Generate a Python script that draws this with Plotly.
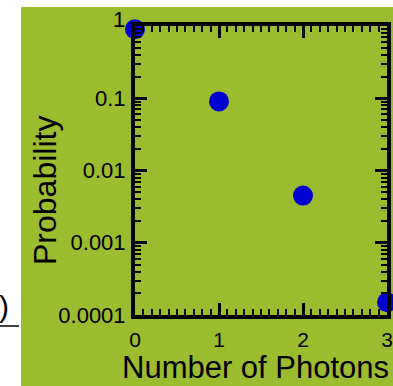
import plotly.graph_objects as go

photons = [0, 1, 2, 3]
probability = [0.905, 0.0905, 0.0045, 0.00015]
y_tickvals = [1e-4, 1e-3, 1e-2, 1e-1, 1]
y_ticktext = ["0.0001", "0.001", "0.01", "0.1", "1"]
x_tickvals = [0, 1, 2, 3]
x_ticktext = ["0", "1", "2", "3"]

W, H = 393, 386
L, R, T, B = 135, 6, 26, 71
pw, ph = W - L - R, H - T - B
green = "#9cbc2f"

def px_x(p):
    return (p - L) / pw

def px_y(p):
    return (H - B - p) / ph

minor_y = [k * 10 ** n for n in range(-4, 0) for k in range(2, 10)]
minor_x = [i / 10 for i in range(31) if i % 10 != 0]

fig = go.Figure()
fig.add_trace(go.Scatter(
    x=photons, y=probability, mode="markers",
    marker=dict(color="#0000d0", size=20, line=dict(width=0)),
    cliponaxis=False, showlegend=False,
))

# top label "1" sits a little above the frame in the reference
shown_text = y_ticktext[:-1] + [""]

font = "Liberation Sans, Arial, Helvetica, sans-serif"
fig.update_layout(
    width=W, height=H,
    margin=dict(l=L, r=R, t=T, b=B, autoexpand=False),
    paper_bgcolor=green, plot_bgcolor=green,
    font=dict(family=font, color="black", size=21),
    xaxis=dict(
        range=[0, 3], tickvals=x_tickvals, ticktext=x_ticktext, automargin=False,
        ticks="inside", ticklen=12, tickwidth=2.5, tickcolor="black",
        showline=True, linewidth=4, linecolor="black", mirror="allticks",
        showgrid=False, zeroline=False,
        minor=dict(tickvals=minor_x, ticks="inside", ticklen=6, tickwidth=2, tickcolor="black", showgrid=False),
        tickfont=dict(size=21), ticklabelstandoff=3,
    ),
    yaxis=dict(
        type="log", range=[-4, 0], tickvals=y_tickvals, ticktext=shown_text, automargin=False,
        ticks="inside", ticklen=12, tickwidth=2.5, tickcolor="black",
        showline=True, linewidth=4, linecolor="black", mirror="allticks",
        showgrid=False, zeroline=False,
        minor=dict(tickvals=minor_y, ticks="inside", ticklen=6, tickwidth=2, tickcolor="black", showgrid=False),
        tickfont=dict(size=22), ticklabelstandoff=1,
    ),
    shapes=[
        dict(type="rect", xref="paper", yref="paper", layer="below",
             x0=px_x(-5), x1=px_x(21), y0=px_y(H + 5), y1=px_y(-5),
             fillcolor="white", line=dict(width=0)),
        dict(type="rect", xref="paper", yref="paper", layer="below",
             x0=px_x(-5), x1=px_x(W + 5), y0=px_y(7), y1=px_y(-5),
             fillcolor="white", line=dict(width=0)),
        dict(type="line", xref="paper", yref="paper",
             x0=px_x(0), x1=px_x(19), y0=px_y(326), y1=px_y(326),
             line=dict(color="black", width=1.5)),
    ],
    annotations=[
        dict(text=y_ticktext[-1], xref="paper", yref="paper", x=px_x(127), y=px_y(19),
             showarrow=False, font=dict(size=22, family=font, color="black"),
             xanchor="right", yanchor="middle"),
        dict(text=")", xref="paper", yref="paper", x=px_x(4), y=px_y(306),
             showarrow=False, font=dict(size=30, family=font, color="black"),
             xanchor="center", yanchor="middle"),
        dict(text="Number of Photons", xref="paper", yref="paper",
             x=px_x(255), y=px_y(367), showarrow=False,
             font=dict(size=31, family=font, color="black"),
             xanchor="center", yanchor="middle"),
        dict(text="Probability", xref="paper", yref="paper", textangle=-90,
             x=px_x(45), y=px_y(191), showarrow=False,
             font=dict(size=32, family=font, color="black"),
             xanchor="center", yanchor="middle"),
    ],
)

fig.write_html("out.html", config={"displayModeBar": False},
               post_script="document.body.style.margin='0';document.body.style.overflow='hidden';")
